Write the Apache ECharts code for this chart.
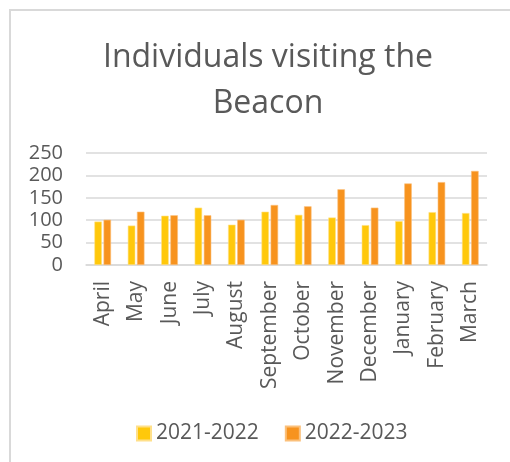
<!DOCTYPE html>
<html>
<head>
<meta charset="utf-8">
<script src="https://cdn.jsdelivr.net/npm/echarts@6/dist/echarts.min.js"></script>
<style>
    html, body { margin: 0; padding: 0; background: #fff; }
    #chart { width: 510px; height: 462px; }
</style>
</head>
<body>
<div id="chart"></div>
<script>
    // data
    var months = ['April', 'May', 'June', 'July', 'August', 'September', 'October',
        'November', 'December', 'January', 'February', 'March'];
    var seriesNames = ['2021-2022', '2022-2023'];
    var visits2122 = [97, 88, 110, 128, 90, 119, 112, 106, 89, 98, 118, 116];
    var visits2223 = [101, 119, 111, 111, 101, 134, 131, 169, 128, 182, 185, 210];

    var textColor = '#595959';
    var font = 'Open Sans';

    var charts = echarts.init(document.getElementById('chart'));
    var option = {
        animation: false,
        textStyle: { fontFamily: font },
        graphic: [{
            type: 'rect',
            shape: { x: 10, y: 10, width: 520, height: 480 },
            style: { fill: 'none', stroke: '#d9d9d9', lineWidth: 2 },
            silent: true
        }],
        title: {
            text: 'Individuals visiting the\nBeacon',
            left: 263,
            top: 30,
            textAlign: 'center',
            textStyle: {
                color: textColor,
                fontFamily: font,
                fontSize: 32,
                fontWeight: 'normal',
                lineHeight: 46
            }
        },
        legend: {
            data: seriesNames,
            left: 131,
            top: 418,
            itemWidth: 14,
            itemHeight: 14,
            itemGap: 26,
            icon: 'rect',
            textStyle: { color: textColor, fontSize: 21, fontFamily: font }
        },
        grid: {
            left: 86,
            right: 23,
            top: 153,
            bottom: 197
        },
        xAxis: {
            type: 'category',
            data: months,
            axisLine: { lineStyle: { color: '#d9d9d9', width: 1.5 } },
            axisTick: { show: false },
            axisLabel: {
                rotate: 90,
                margin: 16,
                color: textColor,
                fontSize: 21,
                fontFamily: font
            }
        },
        yAxis: {
            type: 'value',
            min: 0,
            max: 250,
            interval: 50,
            axisLine: { show: false },
            axisTick: { show: false },
            axisLabel: { margin: 23, color: textColor, fontSize: 20, fontFamily: font },
            splitLine: { lineStyle: { color: '#d9d9d9', width: 1.5 } }
        },
        series: [{
            name: seriesNames[0],
            type: 'bar',
            data: visits2122,
            barWidth: 7.5,
            barGap: '22%',
            itemStyle: { color: '#FFC80B', borderColor: '#FFE08A', borderWidth: 0.6 }
        }, {
            name: seriesNames[1],
            type: 'bar',
            data: visits2223,
            barWidth: 7.5,
            barGap: '22%',
            itemStyle: { color: '#F7931E', borderColor: '#FBC07A', borderWidth: 0.6 }
        }]
    };
    charts.setOption(option);
</script>
</body>
</html>
